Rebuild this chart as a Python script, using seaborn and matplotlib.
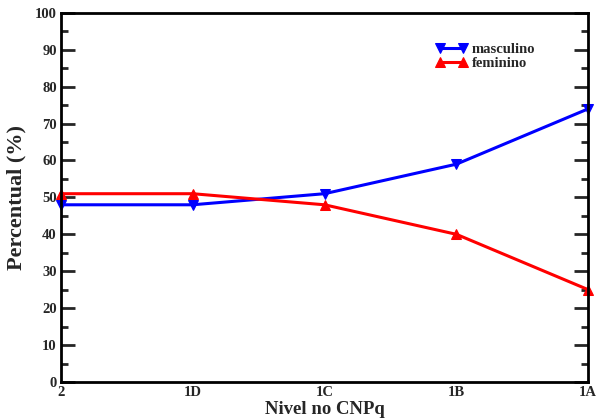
import matplotlib
matplotlib.use("Agg")
import matplotlib.pyplot as plt
from matplotlib.ticker import MultipleLocator
import seaborn as sns
import pandas as pd

niveis = ["2", "1D", "1C", "1B", "1A"]
masculino = [48, 48, 51, 59, 74]
feminino = [51, 51, 48, 40, 25]

sns.set_style("white")
plt.rcParams["font.family"] = ["Liberation Serif", "DejaVu Serif"]
plt.rcParams["font.weight"] = "bold"
plt.rcParams["ytick.direction"] = "in"

df = pd.DataFrame({"pos": range(len(niveis)), "masculino": masculino, "feminino": feminino})

fig = plt.figure(figsize=(5.96, 4.2), dpi=100)
ax = fig.add_axes([0.102, 0.0905, 0.885, 0.879])

sns.lineplot(data=df, x="pos", y="masculino", ax=ax, color="#0000ff", marker="v",
             markersize=7.5, markeredgecolor="#0000ff", linewidth=2.2, label="masculino",
             clip_on=False)
sns.lineplot(data=df, x="pos", y="feminino", ax=ax, color="#ff0000", marker="^",
             markersize=7.5, markeredgecolor="#ff0000", linewidth=2.2, label="feminino",
             clip_on=False)

ax.set_xlim(0, len(niveis) - 1)
ax.set_ylim(0, 100)
ax.set_xticks(range(len(niveis)))
ax.set_xticklabels(niveis)
ax.yaxis.set_major_locator(MultipleLocator(10))
ax.yaxis.set_minor_locator(MultipleLocator(5))

for spine in ax.spines.values():
    spine.set_visible(True)
    spine.set_color("black")
    spine.set_linewidth(2)
    spine.set_zorder(5)

ax.tick_params(axis="y", which="major", direction="in", length=10, width=2,
               left=True, right=True, labelsize=10.5, pad=3)
ax.tick_params(axis="y", which="minor", direction="in", length=5, width=2,
               left=True, right=True)
ax.tick_params(axis="x", which="both", length=0, labelsize=10.5, pad=3)
for lab in ax.get_xticklabels() + ax.get_yticklabels():
    lab.set_fontweight("bold")

ax.set_xlabel("Nivel no CNPq", fontsize=13.5, fontweight="bold", labelpad=1)
ax.set_ylabel("Percentual (%)", fontsize=16, fontweight="bold", labelpad=6)

ax.legend(loc="upper left", bbox_to_anchor=(0.685, 0.955), frameon=False, numpoints=2,
          handlelength=2.2, handletextpad=0.3, labelspacing=0.1,
          prop={"size": 10.5, "weight": "bold"})

fig.savefig("out.png", dpi=100)
